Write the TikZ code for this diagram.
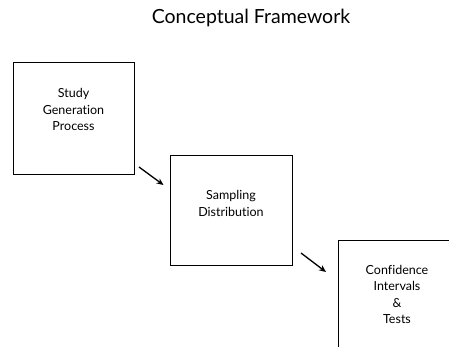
\documentclass[tikz,border=0pt]{standalone}
\usepackage{fontspec}
\setmainfont{Lato}[Ligatures=NoCommon]
\usetikzlibrary{arrows.meta}
\begin{document}
\begin{tikzpicture}[x=1pt,y=-1pt,
  box/.style={draw=black,line width=0.9pt,rectangle,inner sep=0pt},
  lbl/.style={align=center,font=\fontsize{12.5}{16.5}\selectfont,anchor=north,inner sep=0pt},
  flow/.style={line width=1.3pt,-{Stealth[length=7pt,width=6pt]}}]
\useasboundingbox (0,0) rectangle (449,347);
\clip (0,0) rectangle (449,347);
\node[font=\fontsize{19.5}{23}\selectfont,inner sep=0pt] (title) at (251,17.5) {Conceptual Framework};
\node[box,minimum width=121pt,minimum height=112pt] (b1) at (73.5,118) {};
\node[box,minimum width=122pt,minimum height=110pt] (b2) at (231,210) {};
\node[box,minimum width=130pt,minimum height=120pt] (b3) at (403,300) {};
\node[lbl] (t1) at (73.5,88.5) {Study\\Generation\\Process};
\node[lbl] (t2) at (231,190.5) {Sampling\\Distribution};
\node[lbl] (t3) at (397,265) {Confidence\\Intervals\\\&\\Tests};
\coordinate (a1s) at (139,167);
\coordinate (a1e) at (163.5,185);
\coordinate (a2s) at (301,253);
\coordinate (a2e) at (326,272);
\draw[flow] (a1s) -- (a1e);
\draw[flow] (a2s) -- (a2e);
\end{tikzpicture}
\end{document}
